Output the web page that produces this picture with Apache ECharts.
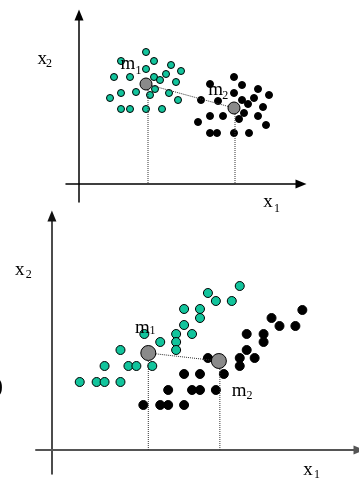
<!DOCTYPE html>
<html>
<head>
<meta charset="utf-8">
<script src="https://cdn.jsdelivr.net/npm/echarts@6/dist/echarts.min.js"></script>
<style>html,body{margin:0;padding:0;background:#fff}#c{width:359px;height:478px}</style>
</head>
<body>
<div id="c"></div>
<script>
// Top panel: two well-separated classes
const topClass1 = [[6.7,13.2],[4.2,12.3],[7.5,12.3],[9.2,11.9],[6.7,11.5],[10.2,11.3],[3.5,10.7],[5.1,10.7],[7.5,10.7],[8.7,11.0],[8.1,10.4],[9.7,10.2],[4.2,9.1],[5.7,9.2],[7.6,9.5],[7.1,8.9],[9.0,9.1],[3.1,8.6],[9.9,8.4],[4.2,7.5],[5.1,7.5],[6.7,7.5],[8.3,7.5]];
const topClass2 = [[15.5,10.7],[13.1,10.0],[16.3,9.9],[15.5,9.1],[17.9,9.5],[19.0,8.9],[17.5,8.6],[16.3,8.4],[12.2,8.4],[13.9,8.3],[16.9,8.0],[18.4,7.7],[16.5,7.1],[13.1,6.8],[14.4,6.8],[16.0,6.5],[17.9,6.8],[11.9,6.2],[18.7,5.9],[13.1,5.1],[13.8,5.1],[15.5,5.1],[17.0,5.1]];
const topMeans = [[6.7,10.0],[15.5,7.6]];
const topProj = [6.9,15.6];
// Bottom panel: elongated, overlapping-in-x classes
const botClass1 = [[18.9,16.4],[15.7,15.7],[16.5,14.9],[18.1,14.9],[13.3,14.1],[14.9,14.1],[14.9,13.2],[13.3,12.5],[14.1,11.6],[12.5,11.6],[9.3,11.6],[10.9,10.8],[12.5,10.8],[12.5,10.0],[6.9,10.0],[5.3,8.4],[7.7,8.4],[8.5,8.4],[10.1,8.4],[2.8,6.8],[4.5,6.8],[5.3,6.8],[6.9,6.8]];
const botClass2 = [[25.2,14.0],[22.1,13.2],[22.9,12.4],[24.5,12.4],[19.6,11.6],[21.3,11.6],[21.3,10.8],[19.6,10.0],[18.9,9.2],[20.4,9.2],[15.7,9.2],[18.9,8.4],[17.3,7.6],[13.3,7.6],[14.9,7.6],[11.7,6.0],[14.1,6.0],[14.9,6.0],[16.5,6.0],[9.2,4.5],[10.9,4.5],[11.7,4.5],[13.3,4.5]];
const botMeans = [[9.7,9.7],[16.8,8.9]];
const botProj = [9.7,16.9];

const TEAL = '#12c49c';
const SERIF = '"Liberation Serif","Times New Roman",serif';

function axisPair(gi, xmin, xmax, ymin, ymax, xColor, xWidth, yColor, yWidth) {
  const common = {
    type: 'value', gridIndex: gi, splitLine: {show: false}, axisTick: {show: false},
    axisLabel: {show: false}
  };
  return {
    x: Object.assign({}, common, {min: xmin, max: xmax,
      axisLine: {show: true, onZero: true, symbol: ['none', 'triangle'], symbolSize: [9, 11],
        lineStyle: {color: xColor, width: xWidth}}}),
    y: Object.assign({}, common, {min: ymin, max: ymax,
      axisLine: {show: true, onZero: true, symbol: ['none', 'triangle'], symbolSize: [9, 11],
        lineStyle: {color: yColor, width: yWidth}}})
  };
}
const a0 = axisPair(0, -1.3, 22.2, -1.8, 16.9, '#000', 1.5, '#000', 1.5);
const a1 = axisPair(1, -1.6, 30.9, -2.4, 23.4, '#555', 2, '#111', 1.5);

function dotted(gi, pts) {
  return {type: 'line', xAxisIndex: gi, yAxisIndex: gi, data: pts, symbol: 'none', silent: true,
    lineStyle: {type: 'dotted', color: '#333', width: 1}, z: 3, animation: false};
}
function scatter(gi, pts, color, size, z) {
  return {type: 'scatter', xAxisIndex: gi, yAxisIndex: gi, data: pts, symbolSize: size, z: z,
    itemStyle: {color: color, borderColor: '#000', borderWidth: 1, opacity: 1}, animation: false};
}

const series = [
  scatter(0, topClass1, TEAL, 7, 2),
  scatter(0, topClass2, '#000', 7, 2),
  dotted(0, topMeans),
  dotted(0, [[topProj[0], topMeans[0][1]], [topProj[0], 0]]),
  dotted(0, [[topProj[1], topMeans[1][1]], [topProj[1], 0]]),
  scatter(0, topMeans, '#8a8a8a', 12, 5),
  scatter(1, botClass1, TEAL, 9, 2),
  scatter(1, botClass2, '#000', 9, 2),
  dotted(1, botMeans),
  dotted(1, [[botProj[0], botMeans[0][1]], [botProj[0], 0]]),
  dotted(1, [[botProj[1], botMeans[1][1]], [botProj[1], 0]]),
  scatter(1, botMeans, '#8a8a8a', 15, 5)
];

function txt(s, x, y, size) {
  return {type: 'text', x: x, y: y, z: 10,
    style: {text: s, font: size + 'px ' + SERIF, fill: '#000', align: 'left', verticalAlign: 'middle'}};
}
const graphics = [
  txt('x', 37.5, 59, 19), txt('2', 46, 64, 12),
  txt('m', 120.5, 64, 19), txt('1', 135.5, 71, 12),
  txt('m', 208.3, 90, 19), txt('2', 222.3, 96, 12),
  txt('x', 263.3, 202, 19), txt('1', 274, 208.5, 12),
  txt('x', 15, 270.5, 19), txt('2', 25.7, 275, 12),
  txt('m', 135, 328, 19), txt('1', 149.5, 331, 12),
  txt('m', 231.7, 391.5, 19), txt('2', 246.5, 395.7, 12),
  txt('x', 303.3, 470.5, 19), txt('1', 314, 475, 12),
  {type: 'text', x: -5, y: 387, z: 10, style: {text: ')', font: 'bold 24px ' + SERIF, fill: '#000', verticalAlign: 'middle'}}
];

const chart = echarts.init(document.getElementById('c'), null, {renderer: 'canvas'});
chart.setOption({
  animation: false,
  backgroundColor: '#fff',
  grid: [
    {left: 66, top: 15, width: 235, height: 187},
    {left: 36, top: 216, width: 325, height: 258}
  ],
  xAxis: [a0.x, a1.x],
  yAxis: [a0.y, a1.y],
  series: series,
  graphic: graphics
});
</script>
</body>
</html>
